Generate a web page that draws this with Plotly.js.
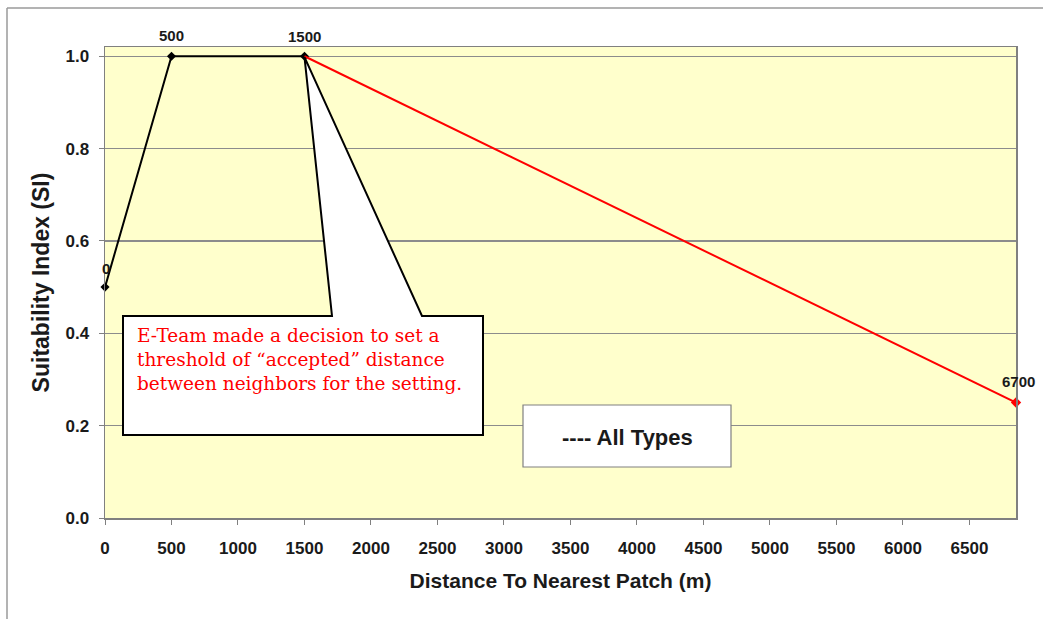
<!DOCTYPE html>
<html>
<head>
<meta charset="utf-8">
<script src="https://cdn.plot.ly/plotly-3.0.1.min.js"></script>
<style>html,body{margin:0;padding:0;background:#fff;}#chart{width:1043px;height:619px;}</style>
</head>
<body>
<div id="chart"></div>
<script>
// Data
const distances = [0, 500, 1500, 6850];
const suitability = [0.5, 1.0, 1.0, 0.25];
const pointLabels = ["0", "500", "1500", "6700"];
const xTickValues = [0,500,1000,1500,2000,2500,3000,3500,4000,4500,5000,5500,6000,6500];
const yTickValues = [0.0, 0.2, 0.4, 0.6, 0.8, 1.0];
const calloutText = "E-Team made a decision to set a<br>threshold of “accepted” distance<br>between neighbors for the setting.";
const legendText = "---- All Types";

const W = 1043, H = 619;
const M = {l: 105, r: 27, t: 47, b: 101};
const XR = [0, 6850], YR = [0, 1.02];
const pw = W - M.l - M.r, ph = H - M.t - M.b;
// pixel -> paper helpers (for decorations only)
const px = p => (p - M.l) / pw;
const py = p => (H - M.b - p) / ph;

const blackX = distances.slice(0, 3), blackY = suitability.slice(0, 3);
const redX = distances.slice(2), redY = suitability.slice(2);
const endX = distances.slice(3), endY = suitability.slice(3);

const txtCol = "#1a1a1a";
const sans = "Liberation Sans, Arial";

const traces = [
  {x: blackX, y: blackY, mode: "lines+markers", line: {color: "#000", width: 2},
   marker: {symbol: "diamond", size: 7, color: "#000"}, cliponaxis: false, hoverinfo: "skip"},
  {x: redX, y: redY, mode: "lines", line: {color: "#ff0000", width: 2}, cliponaxis: false, hoverinfo: "skip"},
  {x: endX, y: endY, mode: "markers", marker: {symbol: "diamond", size: 8, color: "#ff0000"}, cliponaxis: false, hoverinfo: "skip"}
];

// callout tip points at the 1500 data point
const tipX = (distances[2] - XR[0]) / (XR[1] - XR[0]);
const tipY = (suitability[2] - YR[0]) / (YR[1] - YR[0]) - 0.002;
const calloutPath = `M ${px(123)} ${py(316)} L ${px(332)} ${py(316)} L ${tipX} ${tipY} L ${px(422)} ${py(316)} L ${px(483)} ${py(316)} L ${px(483)} ${py(435)} L ${px(123)} ${py(435)} Z`;

// data labels from the arrays
const labelShift = [{xs: 1, ys: 19}, {xs: 0, ys: 21}, {xs: 0, ys: 20}, {xs: 2, ys: 21}];
const dataLabels = pointLabels.map((t, i) => ({
  x: distances[i], y: suitability[i], xref: "x", yref: "y", showarrow: false,
  text: "<b>" + t + "</b>", xanchor: "center", yanchor: "middle",
  xshift: labelShift[i].xs, yshift: labelShift[i].ys,
  font: {family: sans, size: 15, color: txtCol}
}));

const layout = {
  width: W, height: H,
  margin: M,
  paper_bgcolor: "#fff",
  plot_bgcolor: "#ffffcc",
  showlegend: false,
  font: {family: sans, color: txtCol},
  xaxis: {
    range: XR, tickvals: xTickValues, ticktext: xTickValues.map(v => "<b>" + v + "</b>"),
    showgrid: false, zeroline: false, showline: true, linecolor: "#808080", linewidth: 1.5,
    mirror: true, ticks: "outside", ticklen: 5, tickcolor: "#808080", ticklabelstandoff: 9,
    tickfont: {family: sans, size: 17, color: txtCol},
    title: {text: "<b>Distance To Nearest Patch (m)</b>", font: {family: sans, size: 21, color: txtCol}, standoff: 16}
  },
  yaxis: {
    range: YR, tickvals: yTickValues, ticktext: yTickValues.map(v => "<b>" + v.toFixed(1) + "</b>"),
    showgrid: true, gridcolor: "#8c8c8c", gridwidth: 1.3, zeroline: false,
    showline: true, linecolor: "#808080", linewidth: 1.5, mirror: true,
    ticks: "outside", ticklen: 5, tickcolor: "#808080", ticklabelstandoff: 6,
    tickfont: {family: sans, size: 17, color: txtCol},
    title: {text: "<b>Suitability Index (SI)</b>", font: {family: sans, size: 23, color: txtCol}, standoff: 9}
  },
  shapes: [
    // outer frame (left and top visible)
    {type: "line", xref: "paper", yref: "paper", x0: px(7), y0: py(8), x1: px(7), y1: py(625), line: {color: "#9a9a9a", width: 1.5}},
    {type: "line", xref: "paper", yref: "paper", x0: px(7), y0: py(8), x1: px(1050), y1: py(8), line: {color: "#9a9a9a", width: 1.5}},
    // callout
    {type: "path", xref: "paper", yref: "paper", path: calloutPath, fillcolor: "#fff", line: {color: "#000", width: 2}, layer: "above"},
    // legend box
    {type: "rect", xref: "paper", yref: "paper", x0: px(523), x1: px(731), y0: py(405), y1: py(467), fillcolor: "#fff", line: {color: "#808080", width: 1.2}, layer: "above"}
  ],
  annotations: dataLabels.concat([
    {xref: "paper", yref: "paper", x: px(135), y: py(323), xanchor: "left", yanchor: "top", align: "left",
     showarrow: false, text: calloutText,
     font: {family: "DejaVu Serif, serif", size: 18.5, color: "#ff0000"}},
    {xref: "paper", yref: "paper", x: px(627), y: py(437), xanchor: "center", yanchor: "middle",
     showarrow: false, text: "<b>" + legendText + "</b>",
     font: {family: sans, size: 22, color: txtCol}}
  ])
};

Plotly.newPlot("chart", traces, layout, {staticPlot: true, displayModeBar: false});
</script>
</body>
</html>
